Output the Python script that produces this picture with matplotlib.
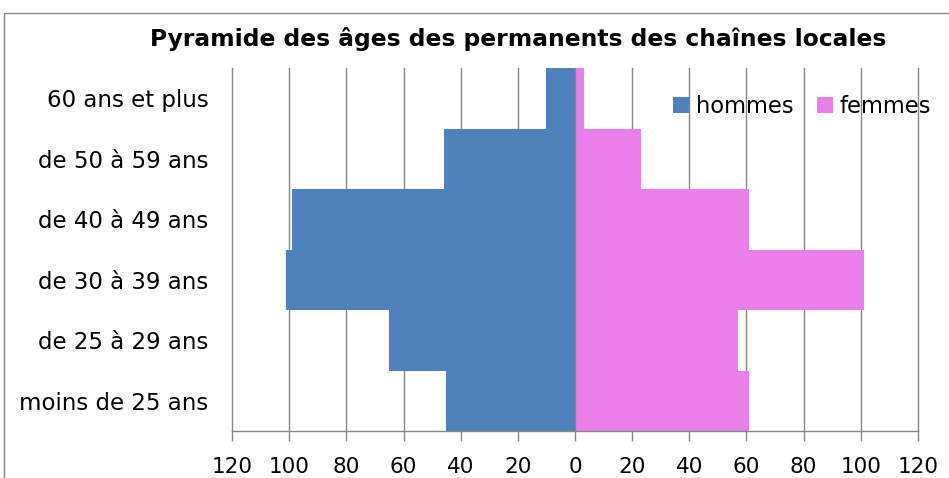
import numpy as np
import matplotlib
matplotlib.use("Agg")
import matplotlib.pyplot as plt
from matplotlib.patches import Rectangle

# Data
categories = ["moins de 25 ans", "de 25 à 29 ans", "de 30 à 39 ans",
              "de 40 à 49 ans", "de 50 à 59 ans", "60 ans et plus"]
hommes = [45, 65, 101, 99, 46, 10]
femmes = [61, 57, 101, 61, 23, 3]
x_ticks = [-120, -100, -80, -60, -40, -20, 0, 20, 40, 60, 80, 100, 120]

blue = "#4F81BD"
pink = "#EA7FEC"
grid_grey = "#868686"

plt.rcParams['font.family'] = ['DejaVu Sans']

fig = plt.figure(figsize=(9.49, 4.78), dpi=100)
ax = fig.add_axes([0.2445, 0.0983, 0.7228, 0.7594])

y = np.arange(len(categories))
ax.barh(y, -np.array(hommes), height=1.0, color=blue, linewidth=0,
        label="hommes", zorder=2)
ax.barh(y, femmes, height=1.0, color=pink, linewidth=0,
        label="femmes", zorder=2)

ax.set_xlim(-120, 120)
ax.set_ylim(-0.5, len(categories) - 0.5)
ax.set_xticks(x_ticks)
ax.set_xticklabels([str(abs(t)) for t in x_ticks], fontsize=15.5)
ax.set_yticks(y)
ax.set_yticklabels(categories, fontsize=16.5)
ax.tick_params(axis="y", length=0, pad=17)
ax.tick_params(axis="x", direction="out", length=7, width=1, color=grid_grey, pad=12)

ax.grid(axis="x", color=grid_grey, linewidth=1.0, zorder=0)
for gl in ax.get_xgridlines():
    gl.set_clip_on(False)
ax.set_axisbelow(True)
for side in ["top", "right", "left"]:
    ax.spines[side].set_visible(False)
ax.spines["bottom"].set_color(grid_grey)
ax.spines["bottom"].set_linewidth(1.0)
# vertical axis at zero drawn over the bars
ax.axvline(0, color=grid_grey, linewidth=1.0, zorder=3)

ax.legend(loc="upper left", bbox_to_anchor=(0.643, 0.925), ncol=2, frameon=False,
          fontsize=16.3, handlelength=0.7, handleheight=0.7, handletextpad=0.3,
          columnspacing=1.05, borderpad=0, borderaxespad=0)

fig.text(0.546, 0.918, "Pyramide des âges des permanents des chaînes locales",
         ha="center", va="center", fontsize=16.8, fontweight="bold")

# chart frame (partly cut off in the reference)
fig.patches.append(Rectangle((0.0042, -0.2), 2.0, 0.9728 + 0.2, transform=fig.transFigure,
                             fill=False, edgecolor=grid_grey, linewidth=1.0))

fig.savefig("out.png", dpi=100, facecolor="white")
